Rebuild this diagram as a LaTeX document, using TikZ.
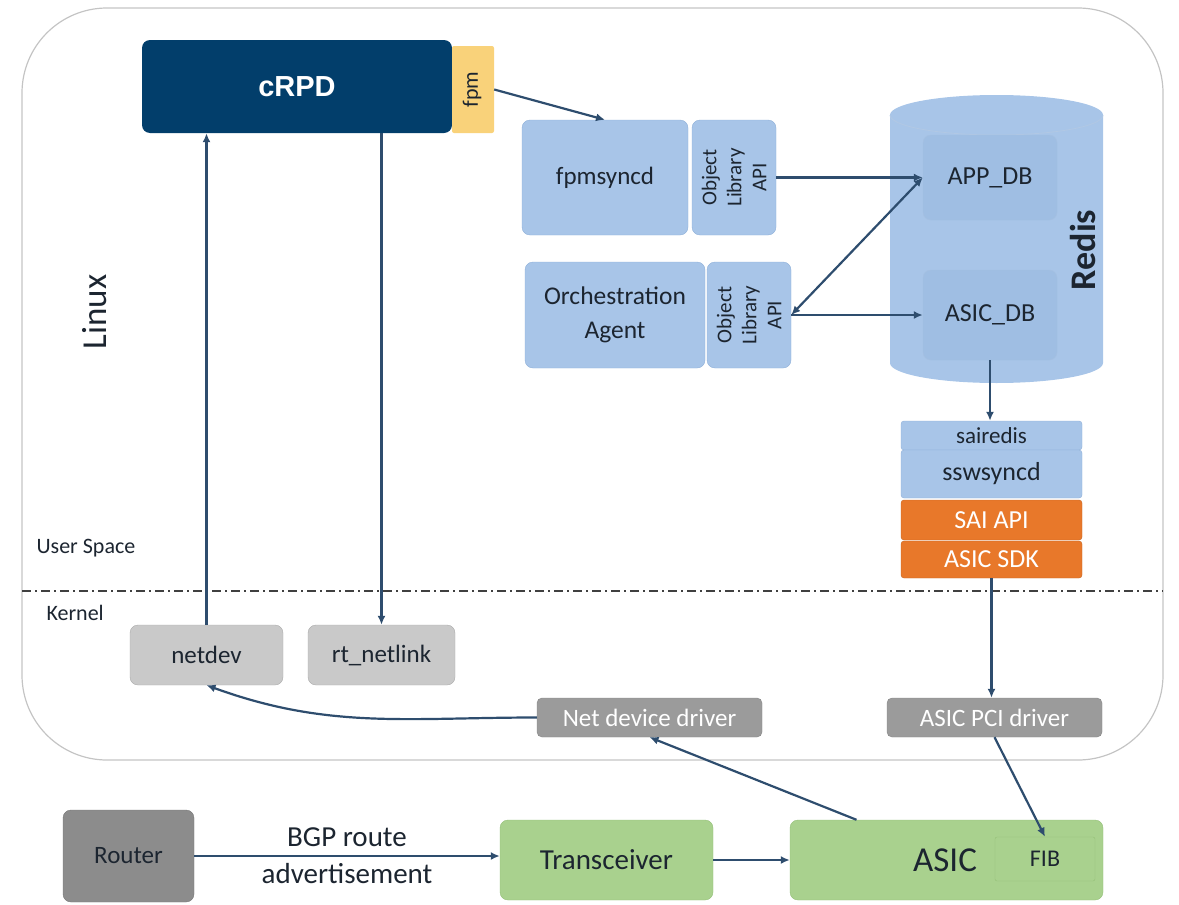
\documentclass[tikz,border=0pt]{standalone}
\usepackage{fontspec}
\setmainfont{Carlito}
\newfontfamily\arialfont{Liberation Sans}
\usetikzlibrary{arrows.meta}

\definecolor{crpdblue}{HTML}{023E6B}
\definecolor{fpmyellow}{HTML}{F9D27A}
\definecolor{sonicblue}{HTML}{A8C5E8}
\definecolor{sonicline}{HTML}{8FB0D9}
\definecolor{dbblue}{HTML}{9FBEE3}
\definecolor{saiorange}{HTML}{E8782A}
\definecolor{kerngray}{HTML}{C9C9C9}
\definecolor{drvgray}{HTML}{9B9B9B}
\definecolor{routergray}{HTML}{8C8C8C}
\definecolor{hwgreen}{HTML}{A9D18E}
\definecolor{hwline}{HTML}{93BF77}
\definecolor{arrowblue}{HTML}{2E4D6E}
\definecolor{framegray}{HTML}{C4C4C4}
\definecolor{textdark}{HTML}{1C2530}

\tikzset{
  box/.style={rectangle, rounded corners=8pt, inner sep=0pt, align=center, text=textdark},
  sonic/.style={box, fill=sonicblue, draw=sonicline},
  dbbox/.style={box, fill=dbblue, draw=sonicline!80, minimum width=134pt},
  kern/.style={box, fill=kerngray, draw=kerngray!85!black, minimum height=60pt},
  drv/.style={box, rounded corners=5pt, fill=drvgray, draw=drvgray!85!black, text=white, minimum height=39pt},
  hw/.style={box, fill=hwgreen, draw=hwline, minimum height=80pt},
  stack/.style={box, rounded corners=3pt, minimum width=181pt},
  sai/.style={stack, fill=saiorange, draw=saiorange!85!black, text=white},
  link/.style={draw=arrowblue, line width=2.2pt, arrows={-Latex[length=9pt,width=8pt]}},
  apitext/.style={rotate=90, align=center, text=textdark, font=\fontsize{21}{25}\selectfont},
  f22/.style={font=\fontsize{22}{26}\selectfont},
  f25/.style={font=\fontsize{25}{30}\selectfont},
}

\begin{document}
\begin{tikzpicture}[x=1pt, y=-1pt]
\useasboundingbox (0,0) rectangle (1179,905);

%linux frame
\draw[framegray, line width=1.2pt, rounded corners=85pt] (22,8) rectangle (1163,760);
\draw[black!75, line width=1.5pt, dash pattern=on 9pt off 4pt on 2pt off 4pt] (22,591) -- (1163,591);

%frame text
\node[rotate=90, font=\fontsize{35}{38}\selectfont, text=textdark] (linux) at (95,312) {Linux};
\node[anchor=west, f22, text=textdark] (user) at (33,548) {User Space};
\node[anchor=west, f22, text=textdark] (kernel) at (43,613) {Kernel};

%redis cylinder
\fill[sonicblue] (890,115) -- (890,363) arc (180:360:106.5pt and 20pt) -- (1103,115) arc (0:180:106.5pt and 20pt) -- cycle;
\draw[sonicline!70, line width=0.8pt] (890,115) arc (180:360:106.5pt and 20pt);
\node[rotate=90, font=\bfseries\fontsize{36}{38}\selectfont, text=textdark] (redis) at (1083,250) {Redis};

%cRPD
\node[box, fill=crpdblue, text=white, minimum width=310pt, minimum height=93pt, font=\arialfont\bfseries\fontsize{29}{32}\selectfont] (crpd) at (297,86.5) {cRPD};
\node[box, rounded corners=2pt, fill=fpmyellow, minimum width=42pt, minimum height=87pt] (fpmbox) at (473,89.5) {};
\node[rotate=90, font=\fontsize{22}{24}\selectfont, text=textdark] (fpm) at (472,89.5) {fpm};

%sonic boxes
\node[sonic, minimum width=166pt, minimum height=115pt, f25] (fpmsyncd) at (605,177.5) {fpmsyncd};
\node[sonic, minimum width=84pt, minimum height=115pt] (api1) at (734,177.5) {};
\node[apitext] (api1text) at (api1) {Object\\Library\\API};
\node[sonic, minimum width=180pt, minimum height=106pt, font=\fontsize{25.5}{34}\selectfont] (orch) at (615,315) {Orchestration\\Agent};
\node[sonic, minimum width=84pt, minimum height=106pt] (api2) at (749,315) {};
\node[apitext] (api2text) at (api2) {Object\\Library\\API};

%databases
\node[dbbox, minimum height=85pt, font=\fontsize{26}{30}\selectfont] (appdb) at (990,177.5) {APP\_DB};
\node[dbbox, minimum height=90pt, font=\fontsize{26}{30}\selectfont] (asicdb) at (990,315) {ASIC\_DB};

%sonic stack
\node[stack, fill=sonicblue, draw=sonicline, minimum height=29pt, font=\fontsize{23}{24}\selectfont] (sairedis) at (991.5,435.5) {sairedis};
\node[stack, fill=sonicblue, draw=sonicline, minimum height=48pt, font=\fontsize{26}{30}\selectfont] (sswsyncd) at (991.5,474) {sswsyncd};
\node[sai, minimum height=40pt, font=\fontsize{26}{28}\selectfont] (saiapi) at (991.5,520) {SAI API};
\node[sai, minimum height=37pt, font=\fontsize{26}{28}\selectfont] (sdk) at (991.5,559.5) {ASIC SDK};

%kernel
\node[kern, minimum width=153pt, f25] (netdev) at (206.5,655) {netdev};
\node[kern, minimum width=147pt, f25] (rtnl) at (381.5,655) {rt\_netlink};
\node[drv, minimum width=225pt, f25] (ndd) at (649.5,717.5) {Net device driver};
\node[drv, minimum width=215pt, f25] (pci) at (994.5,717.5) {ASIC PCI driver};

%hardware
\node[box, fill=routergray, draw=routergray!85!black, minimum width=131pt, minimum height=92pt, f25] (router) at (128.5,856) {Router};
\node[hw, minimum width=213pt, font=\fontsize{29}{32}\selectfont] (trans) at (606.5,860) {Transceiver};
\node[hw, minimum width=313pt] (asic) at (946.5,860) {};
\node[font=\fontsize{35}{38}\selectfont, text=textdark] (asictext) at (945,860) {ASIC};
\node[box, rounded corners=2pt, fill=hwgreen, draw=hwline, minimum width=100pt, minimum height=44pt, font=\fontsize{24}{26}\selectfont] (fib) at (1045,859) {FIB};

%arrows
\draw[link] (netdev.north) -- (netdev.north |- crpd.south);
\draw[link] (rtnl.north |- crpd.south) -- (rtnl.north);
\draw[link] (fpmbox.east) -- (fpmsyncd.north);
\draw[link] (api1.east) -- (appdb.west);
\draw[link, arrows={Latex[length=9pt,width=8pt]-Latex[length=9pt,width=8pt]}] (api2.east) -- (appdb.west);
\draw[link] (api2.east) -- (asicdb.west);
\draw[link] (asicdb.south) -- (asicdb.south |- sairedis.north);
\draw[link] (sdk.south) -- (sdk.south |- pci.north);
\draw[link] (pci.south) -- (fib.north);
\draw[link] ([xshift=-90pt]asic.north) -- (ndd.south);
\draw[link] (ndd.west) to[out=180, in=-20] (netdev.south);
\draw[link] (router.east) -- (router.east -| trans.west)
  node[midway, align=center, text=textdark, font=\fontsize{29}{37}\selectfont] (bgp) {BGP route\\advertisement};
\draw[link] (trans.east) -- (asic.west);

\end{tikzpicture}
\end{document}
